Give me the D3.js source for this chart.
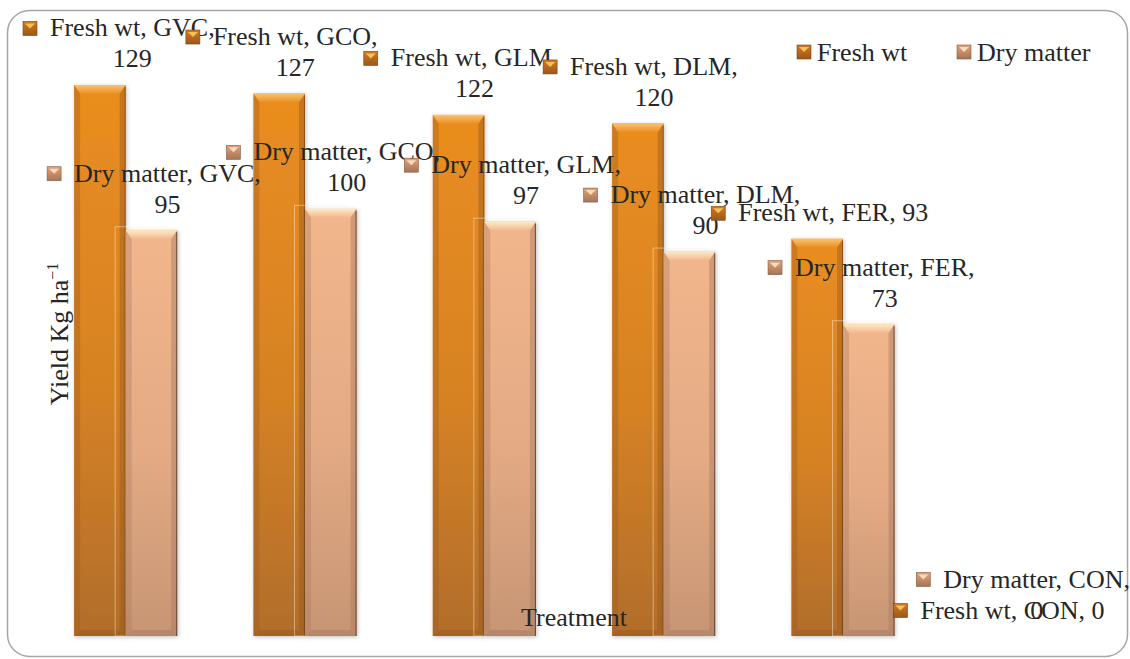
<!DOCTYPE html>
<html>
<head>
<meta charset="utf-8">
<script src="https://cdn.jsdelivr.net/npm/d3@7"></script>
<style>
  body { margin: 0; background: #fff; }
  text { font-family: "Liberation Serif", "Times New Roman", serif; fill: #262626; }
</style>
</head>
<body>
<div id="chart"></div>
<script>
// data
const treatments = ["GVC", "GCO", "GLM", "DLM", "FER", "CON"];
const seriesNames = ["Fresh wt", "Dry matter"];
const freshWt = [129, 127, 122, 120, 93, 0];
const dryMatter = [95, 100, 97, 90, 73, 0];

const W = 1130, H = 659;
const fontSize = 26, lineH = 31;

const svg = d3.select("#chart")
  .append("svg")
    .attr("width", W)
    .attr("height", H);

const defs = svg.append("defs");

// colours for the two series: body top, body bottom, bevel light, side dark
const pal = {
  "Fresh wt":   { top: "#ea8d1f", bot: "#b16d2c", light: "#f8c470", dark: "#9a5a1c", key: "#b8691f", keyLight: "#f6c15a" },
  "Dry matter": { top: "#f2b68c", bot: "#c79574", light: "#fcebc6", dark: "#a8795d", key: "#c58c68", keyLight: "#f8dcbc" }
};

seriesNames.forEach((s, i) => {
  const c = pal[s];
  const g = defs.append("linearGradient").attr("id", "body" + i)
    .attr("x1", 0).attr("y1", 0).attr("x2", 0).attr("y2", 1);
  g.append("stop").attr("offset", "0%").attr("stop-color", c.top);
  g.append("stop").attr("offset", "55%").attr("stop-color", d3.interpolateRgb(c.top, c.bot)(0.35));
  g.append("stop").attr("offset", "100%").attr("stop-color", c.bot);
  const b = defs.append("linearGradient").attr("id", "bevel" + i)
    .attr("x1", 0).attr("y1", 0).attr("x2", 0).attr("y2", 1);
  b.append("stop").attr("offset", "0%").attr("stop-color", c.light);
  b.append("stop").attr("offset", "100%").attr("stop-color", c.top);
  const k = defs.append("linearGradient").attr("id", "key" + i)
    .attr("x1", 0).attr("y1", 0).attr("x2", 0).attr("y2", 1);
  k.append("stop").attr("offset", "0%").attr("stop-color", d3.color(c.key).brighter(0.4));
  k.append("stop").attr("offset", "100%").attr("stop-color", d3.color(c.key).darker(0.5));
});

const sh = defs.append("filter").attr("id", "shadow")
  .attr("x", "-20%").attr("y", "-5%").attr("width", "140%").attr("height", "110%");
sh.append("feDropShadow").attr("dx", 1).attr("dy", 1).attr("stdDeviation", 2)
  .attr("flood-color", "#000").attr("flood-opacity", 0.25);

// outer rounded frame
svg.append("rect")
  .attr("x", 7.5).attr("y", 10.5)
  .attr("width", 1120).attr("height", 646)
  .attr("rx", 22)
  .attr("fill", "none")
  .attr("stroke", "#a6a6a6")
  .attr("stroke-width", 1.5);

// scales
const x0 = d3.scaleBand()
  .domain(treatments)
  .range([36, 1112])
  .paddingInner(0.425)
  .paddingOuter(0.2125);

const x1 = d3.scaleBand()
  .domain(seriesNames)
  .range([0, x0.bandwidth()]);

const y = d3.scaleLinear()
  .domain([0, 140])
  .range([636, 38]);

const rows = [];
treatments.forEach((t, i) => {
  rows.push({ t, s: "Fresh wt", si: 0, v: freshWt[i] });
  rows.push({ t, s: "Dry matter", si: 1, v: dryMatter[i] });
});

// bars
const bars = svg.append("g").selectAll("g")
  .data(rows.filter(d => d.v > 0))
  .join("g")
    .attr("transform", d => `translate(${x0(d.t) + x1(d.s)},0)`);

bars.each(function(d) {
  const g = d3.select(this);
  const w = x1.bandwidth();
  const top = y(d.v), bot = y(0), h = bot - top;
  const c = pal[d.s];
  const e = 6, et = 9;
  if (d.si === 1) {
    // faint reflection outline behind the dry matter bar
    g.append("rect")
      .attr("x", -10.5).attr("y", top - 3.5)
      .attr("width", w).attr("height", h + 3.5)
      .attr("fill", "none")
      .attr("stroke", "#fff3e0")
      .attr("stroke-opacity", 0.45)
      .attr("stroke-width", 1);
  }
  g.append("rect")
    .attr("x", 0).attr("y", top)
    .attr("width", w).attr("height", h)
    .attr("fill", `url(#body${d.si})`)
    .attr("filter", "url(#shadow)");
  // top bevel
  g.append("path")
    .attr("d", `M0,${top}H${w}L${w - e},${top + et}H${e}Z`)
    .attr("fill", `url(#bevel${d.si})`);
  // side bevels
  g.append("path")
    .attr("d", `M0,${top}L${e},${top + et}V${bot - e}L0,${bot}Z`)
    .attr("fill", c.dark).attr("fill-opacity", 0.35);
  g.append("path")
    .attr("d", `M${w},${top}L${w - e},${top + et}V${bot - e}L${w},${bot}Z`)
    .attr("fill", c.dark).attr("fill-opacity", 0.45);
  // bottom bevel
  g.append("path")
    .attr("d", `M0,${bot}L${e},${bot - e}H${w - e}L${w},${bot}Z`)
    .attr("fill", c.dark).attr("fill-opacity", 0.5);
  // dark right edge
  g.append("line")
    .attr("x1", w - 0.5).attr("x2", w - 0.5)
    .attr("y1", top + 2).attr("y2", bot)
    .attr("stroke", d.si === 1 ? "#3a2616" : "#7a4514")
    .attr("stroke-opacity", 0.7);
});

// legend key marker (bevelled square)
function keyMarker(g, si, x, yy) {
  const c = pal[seriesNames[si]];
  g.append("rect")
    .attr("x", x).attr("y", yy).attr("width", 14).attr("height", 14)
    .attr("fill", `url(#key${si})`)
    .attr("stroke", d3.color(c.key).darker(1.2)).attr("stroke-width", 0.6);
  g.append("path")
    .attr("d", `M${x + 2},${yy + 2}H${x + 12}L${x + 7},${yy + 7}Z`)
    .attr("fill", c.keyLight);
}

// data labels: "Series, Category, Value", wrapped when long
const labels = svg.append("g");
rows.forEach(d => {
  const g = labels.append("g");
  const bx = x0(d.t) + x1(d.s) + x1.bandwidth() / 2;
  const lastBase = y(d.v) - 17.5;
  const full = `${d.s}, ${d.t}, ${d.v}`;
  const tmp = g.append("text").attr("font-size", fontSize).text(full);
  const fullW = tmp.node().getComputedTextLength();
  tmp.remove();
  const lines = fullW > 200 ? [`${d.s}, ${d.t},`, `${d.v}`] : [full];
  let cx = bx + 16;
  const t = g.append("text")
    .attr("font-size", fontSize)
    .attr("text-anchor", "middle");
  const spans = lines.map((ln, i) =>
    t.append("tspan")
      .attr("y", lastBase - (lines.length - 1 - i) * lineH)
      .text(ln));
  const w0 = spans[0].node().getComputedTextLength();
  // keep the label inside the frame
  const left = cx - w0 / 2 - 27;
  if (left < 23) cx += 23 - left;
  const right = cx + w0 / 2;
  if (right > W) cx -= right - W;
  spans.forEach(s => s.attr("x", cx));
  keyMarker(g, d.si, cx - w0 / 2 - 27, lastBase - (lines.length - 1) * lineH - 15);
});

// legend
const legend = svg.append("g");
const legX = [797, 957];
seriesNames.forEach((s, i) => {
  keyMarker(legend, i, legX[i], 45);
  legend.append("text")
    .attr("x", legX[i] + 20).attr("y", 61)
    .attr("font-size", fontSize)
    .text(s);
});

// axis titles
svg.append("text")
  .attr("x", 574).attr("y", 626)
  .attr("text-anchor", "middle")
  .attr("font-size", fontSize)
  .text("Treatment");

const yt = svg.append("text")
  .attr("transform", "translate(68,334) rotate(-90)")
  .attr("text-anchor", "middle")
  .attr("font-size", fontSize);
yt.append("tspan").text("Yield Kg ha");
yt.append("tspan").attr("dy", -10).attr("font-size", 16).text("\u22121");
</script>
</body>
</html>
